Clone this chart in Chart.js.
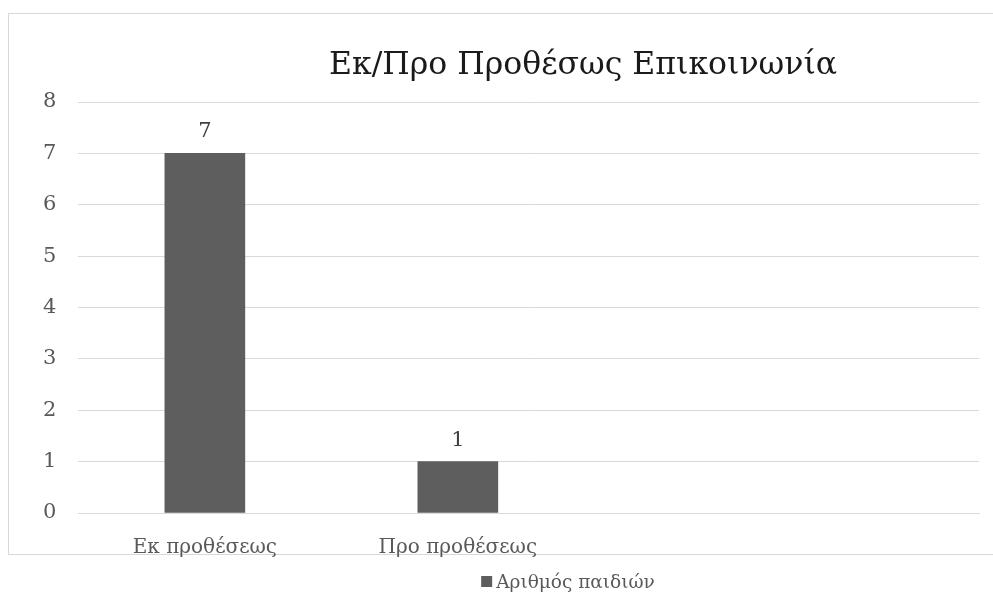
<!DOCTYPE html>
<html>
<head>
<meta charset="utf-8">
<script src="https://cdn.jsdelivr.net/npm/chart.js@4"></script>
<style>
  html, body { margin: 0; padding: 0; background: #fff; }
  #page { position: relative; width: 993px; height: 594px; overflow: hidden; }
  #frame { position: absolute; left: 8px; top: 13px; width: 1160px; height: 540px; border: 1px solid #d9d9d9; }
  #wrap { position: absolute; left: 0; top: 0; width: 1160px; height: 594px; }
</style>
</head>
<body>
<div id="page">
  <div id="frame"></div>
  <div id="wrap"><canvas id="chart" width="1160" height="594"></canvas></div>
</div>
<script>
// Chart content
const chartTitle = 'Εκ/Προ Προθέσως Επικοινωνία';
const categories = ['Εκ προθέσεως', 'Προ προθέσεως'];
const seriesName = 'Αριθμός παιδιών';
const seriesValues = [7, 1];
const yTicks = [0, 1, 2, 3, 4, 5, 6, 7, 8];

const serif = "'DejaVu Serif', 'Liberation Serif', serif";
const barColor = '#5e5e5e';
const textColor = '#595959';

// Value labels above each bar
const valueLabels = {
  id: 'valueLabels',
  afterDatasetsDraw(chart) {
    const ctx = chart.ctx;
    const meta = chart.getDatasetMeta(0);
    ctx.save();
    ctx.font = "21px " + serif;
    ctx.fillStyle = '#404040';
    ctx.textAlign = 'center';
    ctx.textBaseline = 'alphabetic';
    meta.data.forEach((bar, i) => {
      ctx.fillText(String(seriesValues[i]), bar.x, bar.y - 16);
    });
    ctx.restore();
  }
};

// Title across the full frame width, legend entry below the frame
const header = {
  id: 'header',
  afterDraw(chart) {
    const ctx = chart.ctx;
    const cx = chart.width / 2;
    ctx.save();
    ctx.font = "31.5px " + serif;
    ctx.fillStyle = '#1a1a1a';
    ctx.textAlign = 'center';
    ctx.textBaseline = 'alphabetic';
    ctx.fillText(chartTitle, cx + 3, 74);

    const ds = chart.data.datasets[0];
    ctx.font = "18.5px " + serif;
    const box = 11, gap = 4;
    const tw = ctx.measureText(ds.label).width;
    const left = cx - 12 - (box + gap + tw) / 2;
    ctx.fillStyle = ds.backgroundColor;
    ctx.fillRect(left, 576, box, box);
    ctx.fillStyle = textColor;
    ctx.textAlign = 'left';
    ctx.fillText(ds.label, left + box + gap, 588);
    ctx.restore();
  }
};

new Chart(document.getElementById('chart'), {
  type: 'bar',
  data: {
    datasets: [{
      label: seriesName,
      data: categories.map((c, i) => ({ x: i, y: seriesValues[i] })),
      backgroundColor: barColor,
      borderWidth: 0,
      barThickness: 80
    }]
  },
  options: {
    responsive: false,
    animation: false,
    layout: { padding: { left: 21, right: 181, top: 102, bottom: 19 } },
    plugins: {
      title: { display: false },
      legend: { display: false },
      tooltip: { enabled: false }
    },
    scales: {
      x: {
        type: 'linear',
        min: -0.5,
        max: 3.06,
        offset: false,
        afterBuildTicks(scale) {
          scale.ticks = categories.map((c, i) => ({ value: i }));
        },
        ticks: {
          color: textColor,
          font: { family: serif, size: 20 },
          padding: 15,
          maxRotation: 0,
          autoSkip: false,
          callback: (v) => categories[v] ?? ''
        },
        grid: { display: false },
        border: { display: true, color: '#d9d9d9', width: 1 }
      },
      y: {
        min: 0,
        max: 8,
        afterBuildTicks(scale) {
          scale.ticks = yTicks.map(v => ({ value: v }));
        },
        ticks: {
          color: textColor,
          font: { family: serif, size: 21 },
          padding: 22
        },
        grid: { color: '#d9d9d9', lineWidth: 1, drawTicks: false },
        border: { display: false }
      }
    }
  },
  plugins: [valueLabels, header]
});
</script>
</body>
</html>
